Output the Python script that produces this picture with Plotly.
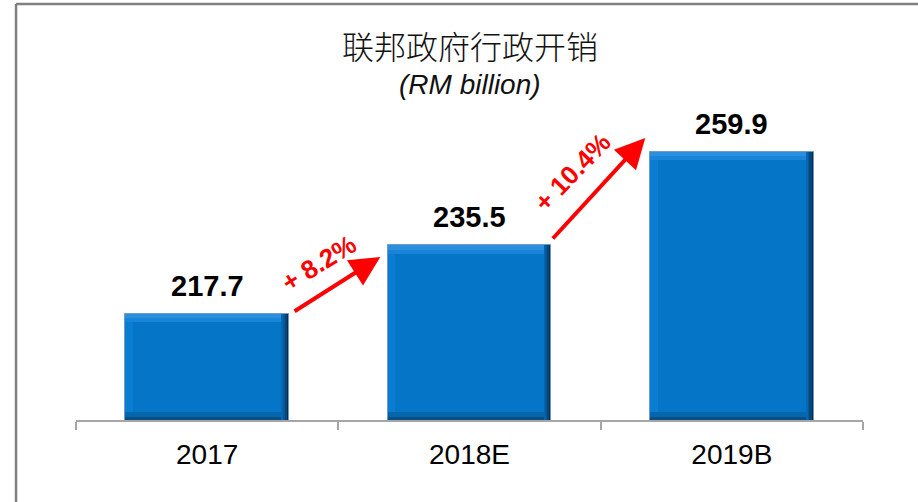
import plotly.graph_objects as go

categories = ["2017", "2018E", "2019B"]
values = [217.7, 235.5, 259.9]
value_labels = ["217.7", "235.5", "259.9"]
title_text = "联邦政府行政开销"
subtitle_text = "(RM billion)"

Y_MIN, Y_MAX = 190.0, 283.8
BAR_W = 0.625
HALF = BAR_W / 2
BX = 0.03     # bevel width (x units)
BY = 2.2      # bevel height (y units)

n = len(categories)
fig = go.Figure()

def layer(top, color, bottom=None, width=BAR_W, offset=-HALF, line=None):
    if bottom is None:
        y, base = top, None
    else:
        y = [t - b for t, b in zip(top, bottom)]
        base = bottom
    fig.add_trace(go.Bar(
        x=categories, y=y, base=base, width=width, offset=offset,
        marker=dict(color=color, line=line or dict(width=0)),
        hoverinfo="skip", showlegend=False,
    ))

bottom_face = [Y_MIN + BY] * n
top_face = [v - BY for v in values]

# dark outer shell (right edge shadow)
layer(values, "#082e4e", line=dict(width=1, color="#6f9cc6"))
# right-edge gradient steps
layer(values, "#074677", width=BAR_W - 0.008)
layer(values, "#065a9b", width=BAR_W - 0.017)
layer(values, "#0668b3", width=BAR_W - 0.024)
# light bevel (top)
layer(values, "#2b8fe0", width=BAR_W - BX)
layer([v - BY * 0.5 for v in values], "#1a84d8", width=BAR_W - BX)
# bottom bevel (darker)
layer(bottom_face, "#0566ad", width=BAR_W - BX)
layer([Y_MIN + BY * 0.4] * n, "#0a4f84", width=BAR_W - BX)
# left bevel
layer(top_face, "#0a7dd2", bottom=bottom_face, width=BX)
# main face
layer(top_face, "#0575c8", bottom=bottom_face, width=BAR_W - 2 * BX, offset=-HALF + BX)

annotations = []
# value labels
for i, (v, t) in enumerate(zip(values, value_labels)):
    annotations.append(dict(
        x=i, y=v, xref="x", yref="y", text=f"<b>{t}</b>", showarrow=False,
        yshift=28, font=dict(family="Liberation Sans, Arial", size=29, color="#000000"),
    ))

# growth arrows and labels
arrow_specs = [
    # (tail dx, tail dy, tip dx, tip dy, text dx, text dy, angle)
    (0.015, 0.4, -0.34, -3.0, 0.10, 12.8, -32),
    (0.0, 1.4, -0.33, 3.6, 0.08, 17.8, -46),
]
for i, spec in enumerate(arrow_specs):
    tdx, tdy, hdx, hdy, xdx, xdy, ang = spec
    growth = (values[i + 1] / values[i] - 1) * 100
    tail_x, tail_y = i + HALF + tdx, values[i] + tdy
    tip_x, tip_y = i + 1 + hdx, values[i + 1] + hdy
    annotations.append(dict(
        x=tip_x, y=tip_y, ax=tail_x, ay=tail_y,
        xref="x", yref="y", axref="x", ayref="y",
        text="", showarrow=True, arrowhead=2, arrowsize=1.5,
        arrowwidth=4, arrowcolor="#ff0000", standoff=0, startstandoff=0,
    ))
    annotations.append(dict(
        x=tail_x + xdx, y=tail_y + xdy, xref="x", yref="y",
        text=f"<b>+ {growth:.1f}%</b>", showarrow=False, textangle=ang,
        font=dict(family="Liberation Sans, Arial", size=26, color="#ff0000"),
    ))

# title & subtitle
annotations.append(dict(
    x=0.5, y=1.042, xref="paper", yref="paper", text=title_text, showarrow=False,
    font=dict(family="Noto Sans CJK SC", size=32, color="#111111", weight=300),
    xanchor="center", yanchor="middle",
))
annotations.append(dict(
    x=0.5, y=0.933, xref="paper", yref="paper", text=f"<i>{subtitle_text}</i>", showarrow=False,
    font=dict(family="Liberation Sans, Arial", size=28, color="#111111"),
    xanchor="center", yanchor="middle",
))

# frame (decorative border)
shapes = [
    dict(type="line", xref="paper", yref="paper", x0=-0.0762, x1=-0.0762, y0=1.1556, y1=-0.25,
         line=dict(color="#808080", width=2.5)),
    dict(type="line", xref="paper", yref="paper", x0=-0.0762, x1=1.1, y0=1.1556, y1=1.1556,
         line=dict(color="#808080", width=2.5)),
]

fig.update_layout(
    width=918, height=502,
    margin=dict(l=76, r=55, t=60, b=82),
    paper_bgcolor="#ffffff", plot_bgcolor="#ffffff",
    barmode="overlay", bargap=0,
    annotations=annotations, shapes=shapes,
    xaxis=dict(
        type="category", categoryorder="array", categoryarray=categories,
        range=[-0.5, n - 0.5],
        showline=True, linecolor="#a6a6a6", linewidth=2,
        ticks="outside", tickson="boundaries", ticklen=8, tickwidth=2, tickcolor="#a6a6a6",
        tickfont=dict(family="Liberation Sans, Arial", size=28, color="#000000"),
        ticklabelstandoff=8, showgrid=False, zeroline=False, fixedrange=True,
    ),
    yaxis=dict(range=[Y_MIN, Y_MAX], visible=False, showgrid=False, zeroline=False,
               fixedrange=True),
)

fig.write_html("out.html", config={"displayModeBar": False},
               post_script="document.body.style.margin='0';")
